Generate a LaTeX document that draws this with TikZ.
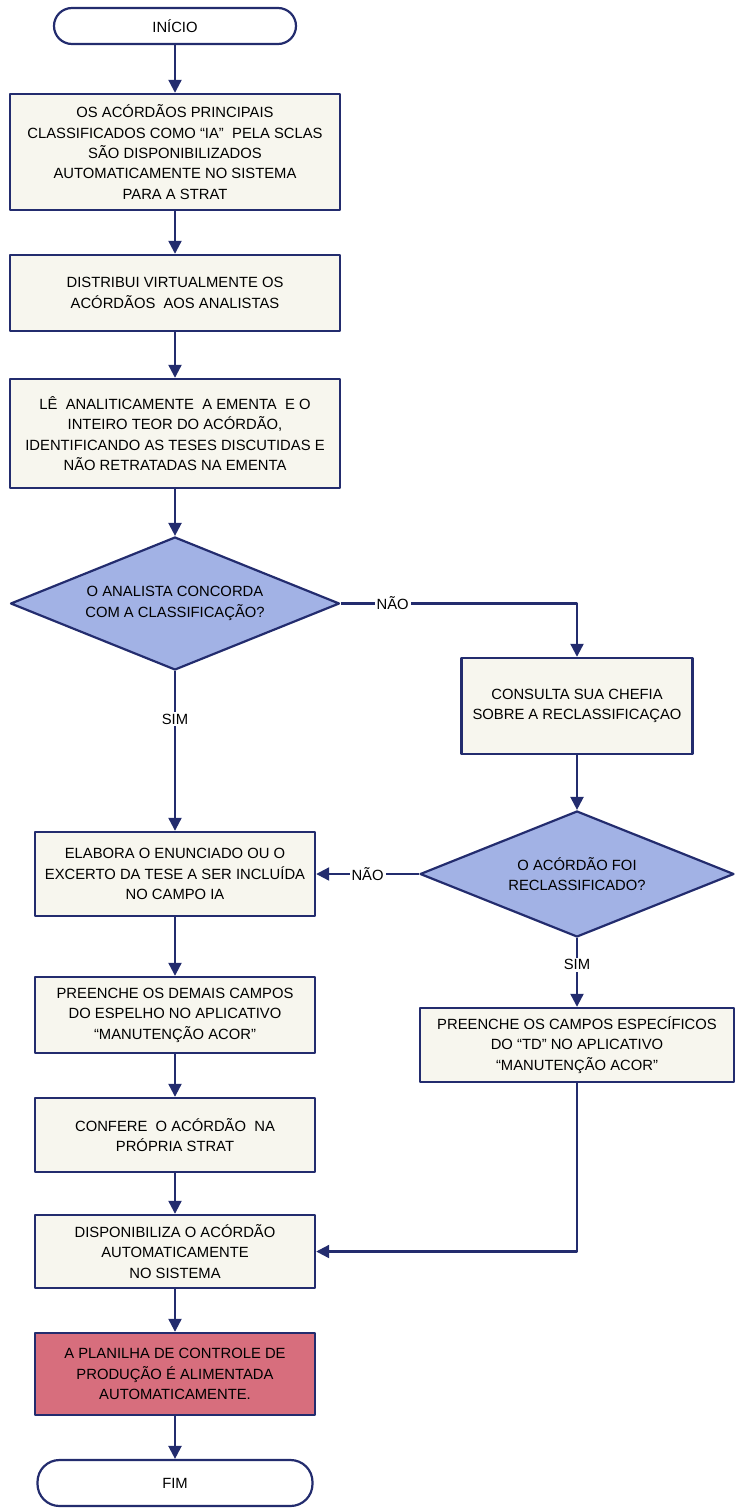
\documentclass[tikz,border=0pt]{standalone}
\usepackage{fontspec}
\setmainfont{Liberation Sans}
\usetikzlibrary{shapes.geometric,arrows.meta}
\definecolor{navy}{HTML}{232C6E}
\definecolor{boxfill}{HTML}{F7F6EE}
\definecolor{questfill}{HTML}{A2B2E5}
\definecolor{endfill}{HTML}{D76E7D}
\begin{document}
\begin{tikzpicture}[x=0.5pt,y=-0.5pt,line join=round,>={Triangle[length=6.5pt,width=6.5pt]},font=\fontsize{7.4}{10.2}\selectfont,
box/.style={draw=navy,line width=1.2pt,fill=boxfill,align=center,inner sep=2pt},
quest/.style={diamond,draw=navy,line width=1.1pt,fill=questfill,align=center,inner sep=0pt,aspect=2.5},
term/.style={draw=navy,line width=1.1pt,fill=white,rounded corners=9pt},
lab/.style={fill=white,inner sep=1pt},
flow/.style={draw=navy,line width=1.1pt}]
\useasboundingbox (0,0) rectangle (735,1509);
% left column
\node[term,minimum width=121pt,minimum height=18pt] (ini) at (175,26) {INÍCIO};
\node[box,minimum width=165pt,minimum height=58pt] (b1) at (175,152) {OS ACÓRDÃOS PRINCIPAIS\\CLASSIFICADOS COMO “IA”\ \ PELA SCLAS\\SÃO DISPONIBILIZADOS\\AUTOMATICAMENTE NO SISTEMA\\PARA A STRAT};
\node[box,minimum width=165pt,minimum height=38pt] (b2) at (175,293) {DISTRIBUI VIRTUALMENTE OS\\ACÓRDÃOS\ \ AOS ANALISTAS};
\node[box,minimum width=165pt,minimum height=54.5pt] (b3) at (175,433.5) {LÊ\ \ ANALITICAMENTE\ \ A EMENTA\ \ E O\\INTEIRO TEOR DO ACÓRDÃO,\\IDENTIFICANDO AS TESES DISCUTIDAS E\\NÃO RETRATADAS NA EMENTA};
\node[quest,minimum width=164.5pt,minimum height=66.5pt] (q1) at (175,603.5) {O ANALISTA CONCORDA\\COM A CLASSIFICAÇÃO?};
\node[box,minimum width=140pt,minimum height=42pt] (b4) at (175,874) {ELABORA O ENUNCIADO OU O\\EXCERTO DA TESE A SER INCLUÍDA\\NO CAMPO IA};
\node[box,minimum width=140pt,minimum height=38pt] (b5) at (175,1015) {PREENCHE OS DEMAIS CAMPOS\\DO ESPELHO NO APLICATIVO\\“MANUTENÇÃO ACOR”};
\node[box,minimum width=140pt,minimum height=37pt] (b6) at (175,1135) {CONFERE\ \ O ACÓRDÃO\ \ NA\\PRÓPRIA STRAT};
\node[box,minimum width=140pt,minimum height=36.5pt] (b7) at (175,1251.5) {DISPONIBILIZA O ACÓRDÃO\\AUTOMATICAMENTE\\NO SISTEMA};
\node[box,fill=endfill,minimum width=140pt,minimum height=41pt] (b8) at (175,1374) {A PLANILHA DE CONTROLE DE\\PRODUÇÃO É ALIMENTADA\\AUTOMATICAMENTE.};
\node[term,minimum width=137.5pt,minimum height=23pt,rounded corners=11pt] (fim) at (175,1483) {FIM};
% right column
\node[box,minimum width=115.5pt,minimum height=48pt] (b9) at (577,706) {CONSULTA SUA CHEFIA\\SOBRE A RECLASSIFICAÇAO};
\node[quest,minimum width=157pt,minimum height=63pt] (q2) at (577,874) {O ACÓRDÃO FOI\\RECLASSIFICADO?};
\node[box,minimum width=157pt,minimum height=37pt] (b10) at (577,1045) {PREENCHE OS CAMPOS ESPECÍFICOS\\DO “TD” NO APLICATIVO\\“MANUTENÇÃO ACOR”};
% connectors
\foreach \a/\b in {ini/b1,b1/b2,b2/b3,b3/q1,b4/b5,b5/b6,b6/b7,b7/b8,b8/fim,b9/q2}\draw[flow,->] (\a)--(\b);
\draw[flow,->] (q1.east) -| node[lab,pos=0.11]{NÃO} (b9.north);
\draw[flow,->] (q1.south) -- node[lab,pos=0.3]{SIM} (b4.north);
\draw[flow,->] (q2.west) -- node[lab]{NÃO} (b4.east);
\draw[flow,->] (q2.south) -- node[lab,pos=0.39]{SIM} (b10.north);
\draw[flow,->] (b10.south) |- (b7.east);
\end{tikzpicture}
\end{document}
